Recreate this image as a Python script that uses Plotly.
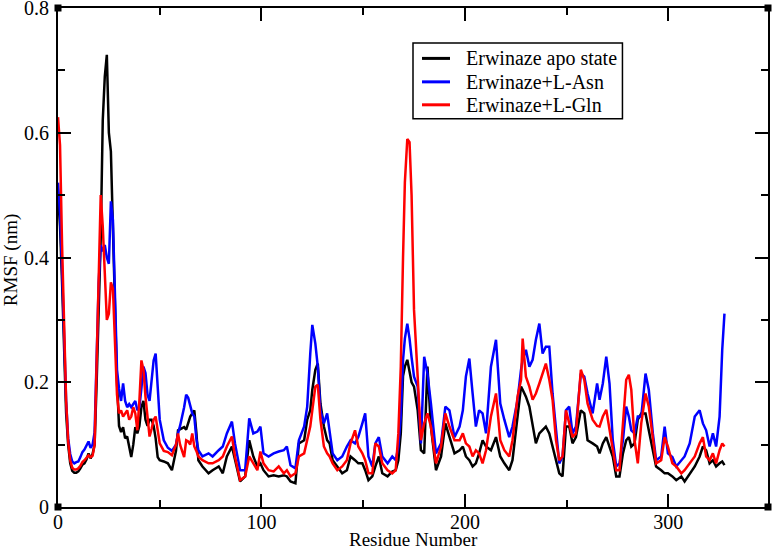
import plotly.graph_objects as go

residue = [0, 1, 2, 3, 4, 5, 6, 7, 8, 9, 10, 11, 12, 13, 14, 15, 16, 17, 18, 19, 20,
           21, 22, 23, 24, 25, 26, 27, 28, 29, 30, 31, 32, 33, 34, 35, 36, 37, 38, 39,
           40, 41, 42, 43, 44, 45, 46, 47, 48, 49, 50, 52, 54, 56, 58, 59, 60, 62, 63,
           64, 65, 66, 67, 68, 69, 71, 74, 76, 79, 81, 83, 85.5, 87, 89.5, 92, 94, 96,
           98, 99.5, 101, 103.5, 106, 108.5, 111, 112.5, 114.3, 116.7, 118.4, 121, 122.5,
           124, 125, 126.5, 127.7, 129, 130.7, 132.3, 133.5, 135, 137.3, 139.7, 142,
           143.8, 146, 147.6, 149.6, 151, 152.6, 154.5, 156, 157.7, 159.4, 162, 164.3,
           166, 167.3, 168.5, 169.6, 170.5, 171.7, 172.8, 173.8, 175, 176.8, 178.4, 180,
           181.6, 183.3, 185.8, 188.3, 190.4, 192.4, 194.9, 197.4, 199, 200.5, 202.2,
           203.8, 205.4, 207, 208.7, 210.4, 212.8, 215.3, 217.4, 219.4, 221.8, 223.4,
           225.9, 227.6, 228.4, 230, 231.7, 233.3, 234.9, 236.6, 238.2, 239.8, 241.5,
           243.1, 244.8, 246.4, 248, 249.7, 251.3, 252.9, 254.6, 257, 258.7, 260.3,
           262.8, 265, 266.2, 267.8, 269.5, 271.1, 272.7, 274.4, 276, 277.7, 279.3,
           280.6, 281.8, 283.4, 285, 286.7, 288.8, 290.4, 292.4, 294, 296.5, 298.2,
           299.8, 302, 303.9, 306.4, 308, 310.5, 313, 315.4, 317, 318.6, 320.3, 321.9,
           323.5, 325.2, 326.5, 327.6]

rmsf_apo = [0.50, 0.45, 0.36, 0.25, 0.15, 0.10, 0.07, 0.058, 0.055, 0.055, 0.057, 0.062,
            0.068, 0.070, 0.076, 0.086, 0.078, 0.085, 0.10, 0.20, 0.33,
            0.43, 0.62, 0.69, 0.725, 0.60, 0.57, 0.45, 0.30, 0.20, 0.13, 0.12, 0.128,
            0.11, 0.113, 0.095, 0.08, 0.10, 0.128, 0.118,
            0.13, 0.16, 0.17, 0.14, 0.13, 0.14, 0.14, 0.13, 0.11, 0.08, 0.075, 0.073,
            0.07, 0.059, 0.09, 0.123, 0.125, 0.128, 0.124,
            0.134, 0.145, 0.15, 0.155, 0.12, 0.075, 0.065, 0.054, 0.059, 0.065, 0.054,
            0.081, 0.097, 0.075, 0.041, 0.049, 0.107, 0.081,
            0.065, 0.07, 0.059, 0.049, 0.051, 0.049, 0.051, 0.049, 0.041, 0.038, 0.102,
            0.107, 0.14,
            0.155, 0.188, 0.22, 0.23, 0.166, 0.129, 0.107, 0.102, 0.075, 0.065, 0.054,
            0.059,
            0.081, 0.075, 0.07, 0.07, 0.059, 0.043, 0.049, 0.065, 0.081, 0.054, 0.049,
            0.057,
            0.059, 0.075, 0.118, 0.21, 0.225, 0.236, 0.22, 0.20, 0.193, 0.155, 0.091,
            0.086,
            0.225, 0.129, 0.059, 0.081, 0.134, 0.112, 0.086, 0.091, 0.097, 0.081, 0.075,
            0.065, 0.07, 0.086, 0.107, 0.097, 0.091, 0.112, 0.081, 0.07, 0.059, 0.075,
            0.145, 0.193, 0.188, 0.177, 0.161, 0.134, 0.102, 0.118, 0.123, 0.129, 0.118,
            0.097, 0.075, 0.054, 0.049, 0.129, 0.129, 0.102, 0.112, 0.155, 0.15, 0.107,
            0.102, 0.097, 0.086, 0.102, 0.112, 0.097, 0.081, 0.049, 0.049, 0.086, 0.107,
            0.112, 0.097, 0.102, 0.14, 0.15, 0.15, 0.123, 0.091, 0.065, 0.059, 0.054,
            0.054, 0.049, 0.043, 0.049, 0.041, 0.054, 0.065, 0.081, 0.097, 0.091, 0.07,
            0.075,
            0.065, 0.07, 0.073, 0.067]

rmsf_asn = [0.52, 0.47, 0.38, 0.27, 0.17, 0.11, 0.085, 0.073, 0.070, 0.072, 0.073, 0.080,
            0.088, 0.092, 0.10, 0.105, 0.095, 0.10, 0.12, 0.25, 0.36,
            0.42, 0.41, 0.42, 0.40, 0.39, 0.49, 0.46, 0.33, 0.22, 0.19, 0.17, 0.198,
            0.17, 0.16, 0.165, 0.16, 0.165, 0.17, 0.155,
            0.16, 0.19, 0.225, 0.215, 0.18, 0.17, 0.20, 0.235, 0.246, 0.19, 0.14, 0.107,
            0.095, 0.09, 0.10, 0.118, 0.13, 0.16, 0.18,
            0.175, 0.16, 0.15, 0.145, 0.11, 0.091, 0.081, 0.086, 0.081, 0.091, 0.097,
            0.118, 0.137, 0.102, 0.059, 0.059, 0.142, 0.118,
            0.121, 0.129, 0.086, 0.081, 0.086, 0.089, 0.091, 0.097, 0.067, 0.062, 0.107,
            0.129, 0.161,
            0.246, 0.292, 0.262, 0.225, 0.155, 0.134, 0.15, 0.118, 0.086, 0.075, 0.081,
            0.097,
            0.107, 0.102, 0.112, 0.134, 0.15, 0.081, 0.065, 0.102, 0.112, 0.081, 0.07,
            0.081,
            0.075, 0.097, 0.145, 0.236, 0.27, 0.294, 0.27, 0.24, 0.209, 0.193, 0.102,
            0.241,
            0.214, 0.166, 0.086, 0.102, 0.161, 0.155, 0.112, 0.129, 0.155, 0.209, 0.238,
            0.182, 0.129, 0.155, 0.15, 0.118, 0.225, 0.268, 0.166, 0.14, 0.112, 0.129,
            0.172, 0.22, 0.236, 0.252, 0.225, 0.236, 0.268, 0.294, 0.246, 0.257, 0.257,
            0.182, 0.118, 0.07, 0.081, 0.155, 0.161, 0.118, 0.129, 0.214, 0.209, 0.182,
            0.15, 0.198, 0.172, 0.198, 0.241, 0.198, 0.107, 0.065, 0.07, 0.107, 0.161,
            0.145, 0.123, 0.118, 0.145, 0.145, 0.214, 0.188, 0.118, 0.075, 0.081, 0.129,
            0.086, 0.08, 0.065, 0.075, 0.081, 0.102, 0.145, 0.155, 0.134, 0.123, 0.097,
            0.118,
            0.097, 0.145, 0.252, 0.31]

rmsf_gln = [0.625, 0.58, 0.42, 0.30, 0.17, 0.105, 0.075, 0.063, 0.060, 0.060, 0.062, 0.066,
            0.072, 0.075, 0.080, 0.083, 0.080, 0.082, 0.10, 0.22, 0.38,
            0.50, 0.45, 0.38, 0.30, 0.31, 0.36, 0.35, 0.25, 0.18, 0.15, 0.155, 0.145,
            0.15, 0.155, 0.14, 0.145, 0.16, 0.15, 0.123,
            0.17, 0.235, 0.22, 0.177, 0.14, 0.113, 0.125, 0.14, 0.145, 0.12, 0.102, 0.09,
            0.088, 0.083, 0.10, 0.118, 0.10, 0.08, 0.107,
            0.105, 0.10, 0.118, 0.097, 0.09, 0.081, 0.075, 0.07, 0.07, 0.075, 0.081,
            0.097, 0.113, 0.081, 0.043, 0.049, 0.081, 0.07,
            0.059, 0.089, 0.07, 0.059, 0.057, 0.065, 0.054, 0.059, 0.049, 0.054, 0.081,
            0.086, 0.107,
            0.129, 0.155, 0.193, 0.196, 0.14, 0.097, 0.086, 0.081, 0.07, 0.059, 0.065,
            0.075,
            0.102, 0.123, 0.097, 0.086, 0.075, 0.054, 0.054, 0.102, 0.097, 0.07, 0.059,
            0.054,
            0.059, 0.118, 0.225, 0.40, 0.52, 0.59, 0.585, 0.50, 0.316, 0.209, 0.107,
            0.134,
            0.15, 0.129, 0.07, 0.097, 0.15, 0.129, 0.107, 0.107, 0.118, 0.102, 0.097,
            0.081, 0.091, 0.086, 0.07, 0.091, 0.145, 0.182, 0.107, 0.091, 0.081, 0.107,
            0.177, 0.204, 0.27, 0.209, 0.193, 0.172, 0.182, 0.198, 0.214, 0.23, 0.204,
            0.172, 0.107, 0.075, 0.081, 0.155, 0.134, 0.112, 0.118, 0.22, 0.204, 0.166,
            0.14, 0.13, 0.129, 0.145, 0.156, 0.123, 0.097, 0.059, 0.059, 0.129, 0.204,
            0.212, 0.188, 0.107, 0.07, 0.134, 0.182, 0.161, 0.107, 0.07, 0.075, 0.112,
            0.097, 0.07, 0.065, 0.054, 0.059, 0.07, 0.081, 0.102, 0.112, 0.081, 0.075,
            0.086,
            0.07, 0.091, 0.102, 0.097]

series_names = ["Erwinaze apo state", "Erwinaze+L-Asn", "Erwinaze+L-Gln"]
series_colors = ["#000000", "#0000ff", "#ff0000"]
x_tick_vals = [0, 100, 200, 300]
y_tick_vals = [0, 0.2, 0.4, 0.6, 0.8]
y_tick_text = ["0", "0.2", "0.4", "0.6", "0.8"]
x_title = "Residue Number"
y_title = "RMSF (nm)"

FONT = "Liberation Serif, Times New Roman, serif"

fig = go.Figure()
for name, color, vals in zip(series_names, series_colors, [rmsf_apo, rmsf_asn, rmsf_gln]):
    fig.add_trace(go.Scatter(x=residue, y=vals, mode="lines", name=name,
                             line=dict(color=color, width=2.5), showlegend=False))

axis_common = dict(
    showline=True, linecolor="black", linewidth=2, mirror="allticks",
    ticks="inside", ticklen=13, tickwidth=1.5, tickcolor="black",
    showgrid=False, zeroline=False, automargin=False,
    ticklabeloverflow="allow",
    tickfont=dict(family=FONT, size=20, color="black"),
)

fig.update_xaxes(
    range=[0, 349], tickvals=x_tick_vals,
    minor=dict(dtick=50, ticks="inside", ticklen=7, tickwidth=1.5, tickcolor="black", showgrid=False),
    ticklabelstandoff=-4,
    **axis_common,
)
fig.update_yaxes(
    range=[0, 0.8], tickvals=y_tick_vals, ticktext=y_tick_text,
    minor=dict(dtick=0.1, ticks="inside", ticklen=7, tickwidth=1.5, tickcolor="black", showgrid=False),
    ticklabelstandoff=3,
    **axis_common,
)

shapes = []
for xa in (0, 1):
    for ya in (0, 1):
        shapes.append(dict(type="rect", xref="paper", yref="paper",
                           xsizemode="pixel", ysizemode="pixel",
                           xanchor=xa, yanchor=ya, x0=-3.5, x1=3.5, y0=-3.5, y1=3.5,
                           fillcolor="black", line=dict(width=0)))

annotations = [
    dict(text=x_title, xref="paper", yref="paper", x=0.5, y=-0.066,
         xanchor="center", yanchor="middle", showarrow=False,
         font=dict(family=FONT, size=19, color="black")),
    dict(text=y_title, xref="paper", yref="paper", x=-0.066, y=0.495,
         xanchor="center", yanchor="middle", showarrow=False, textangle=-90,
         font=dict(family=FONT, size=19, color="black")),
]

# legend box drawn in paper coordinates (Grace-style legend)
shapes.append(dict(type="rect", xref="paper", yref="paper",
                   x0=0.500, x1=0.795, y0=0.778, y1=0.930,
                   fillcolor="white", line=dict(color="black", width=1.5), layer="above"))
legend_rows = [0.899, 0.852, 0.806]
for name, color, ry in zip(series_names, series_colors, legend_rows):
    shapes.append(dict(type="line", xref="paper", yref="paper",
                       x0=0.5127, x1=0.5521, y0=ry, y1=ry,
                       line=dict(color=color, width=3), layer="above"))
    annotations.append(dict(text=name, xref="paper", yref="paper", x=0.5715, y=ry,
                            xanchor="left", yanchor="middle", showarrow=False,
                            font=dict(family=FONT, size=20, color="black")))

fig.update_layout(
    width=774, height=550,
    margin=dict(l=58, r=6, t=8, b=43, autoexpand=False),
    paper_bgcolor="white", plot_bgcolor="white",
    showlegend=False,
    shapes=shapes,
    annotations=annotations,
)

fig.write_html("out.html", config={"displayModeBar": False},
               post_script="document.body.style.margin='0';document.body.style.overflow='hidden';")
